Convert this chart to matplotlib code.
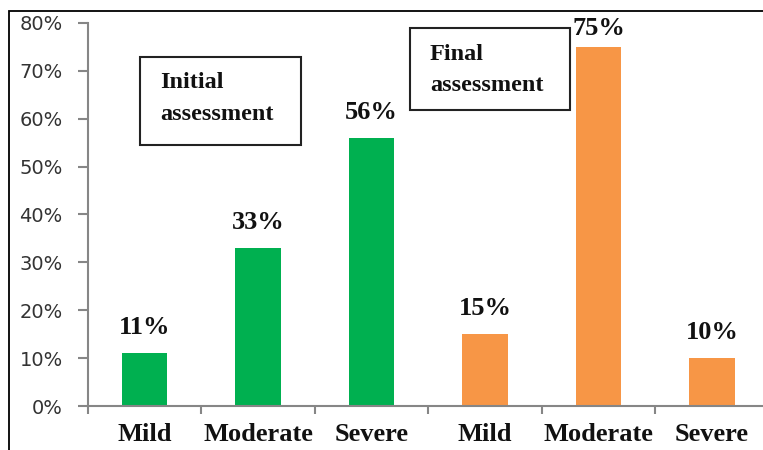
#!/usr/bin/env python3

import matplotlib
matplotlib.use('Agg')
import matplotlib.pyplot as plt
from matplotlib.patches import Rectangle
from matplotlib.ticker import FuncFormatter

# data
categories = ['Mild', 'Moderate', 'Severe', 'Mild', 'Moderate', 'Severe']
initial = [11, 33, 56]
final = [15, 75, 10]
yticks = [0, 10, 20, 30, 40, 50, 60, 70, 80]

green = '#00B050'
orange = '#F79646'
axisgray = '#868686'
serif = ['Liberation Serif', 'DejaVu Serif']

W, H = 763, 450


def main():
	fig = plt.figure(figsize=(W / 100, H / 100), dpi=100)
	# axes placed in pixel terms, right end runs off the picture
	ax = fig.add_axes([88 / W, 1 - 406 / H, (768.6 - 88) / W, (406 - 23) / H])

	values = initial + final
	colors = [green] * len(initial) + [orange] * len(final)
	xs = [i + 0.5 for i in range(len(values))]
	ax.bar(xs, values, width=0.4, color=colors, edgecolor='none')

	pads = [10, 10, 10, 10, 5, 10]
	for x, v, p in zip(xs, values, pads):
		ax.annotate('%d%%' % v, (x, v), xytext=(0, p), textcoords='offset points',
			ha='center', va='bottom', fontsize=19, fontweight='bold',
			family=serif, color='#111111')

	ax.set_xlim(0, 6)
	ax.set_ylim(0, 80)
	ax.set_yticks(yticks)
	ax.yaxis.set_major_formatter(FuncFormatter(lambda v, pos: '%d%%' % v))

	ax.set_xticks(range(0, 7))
	ax.set_xticklabels([])
	ax.set_xticks(xs, minor=True)
	ax.set_xticklabels(categories, minor=True, fontsize=19, fontweight='bold',
		family=serif, color='#111111')

	for s in ['top', 'right']:
		ax.spines[s].set_visible(False)
	for s in ['left', 'bottom']:
		ax.spines[s].set_color(axisgray)
		ax.spines[s].set_linewidth(1.5)

	ax.tick_params(axis='y', direction='out', length=7.2, width=1.5, color=axisgray,
		pad=11, labelsize=14, labelcolor='#333333')
	ax.tick_params(axis='x', which='major', direction='out', length=6, width=1.5,
		color=axisgray)
	ax.tick_params(axis='x', which='minor', length=0, pad=12.5)

	# outer frame (only left and top edges fall inside the picture)
	fig.add_artist(Rectangle((9 / W, -0.2), 1.2, 1.2 - 11 / H,
		transform=fig.transFigure, fill=False, edgecolor='black', lw=1.3))

	# annotation boxes
	boxes = [
		(140, 57, 301, 145, 160, ['Initial', 'assessment'], [88, 120]),
		(410, 28, 570, 110, 430, ['Final', 'assessment'], [60, 91]),
	]
	for x0, y0, x1, y1, tx, lines, bases in boxes:
		fig.add_artist(Rectangle((x0 / W, 1 - y1 / H), (x1 - x0) / W, (y1 - y0) / H,
			transform=fig.transFigure, fill=False, edgecolor='#222222', lw=1.5))
		for line, b in zip(lines, bases):
			fig.text(tx / W, 1 - b / H, line, ha='left', va='baseline',
				fontsize=17.5, fontweight='bold', family=serif, color='#111111')

	fig.savefig('out.png', dpi=100)
	plt.close(fig)


if __name__ == '__main__':
	main()
